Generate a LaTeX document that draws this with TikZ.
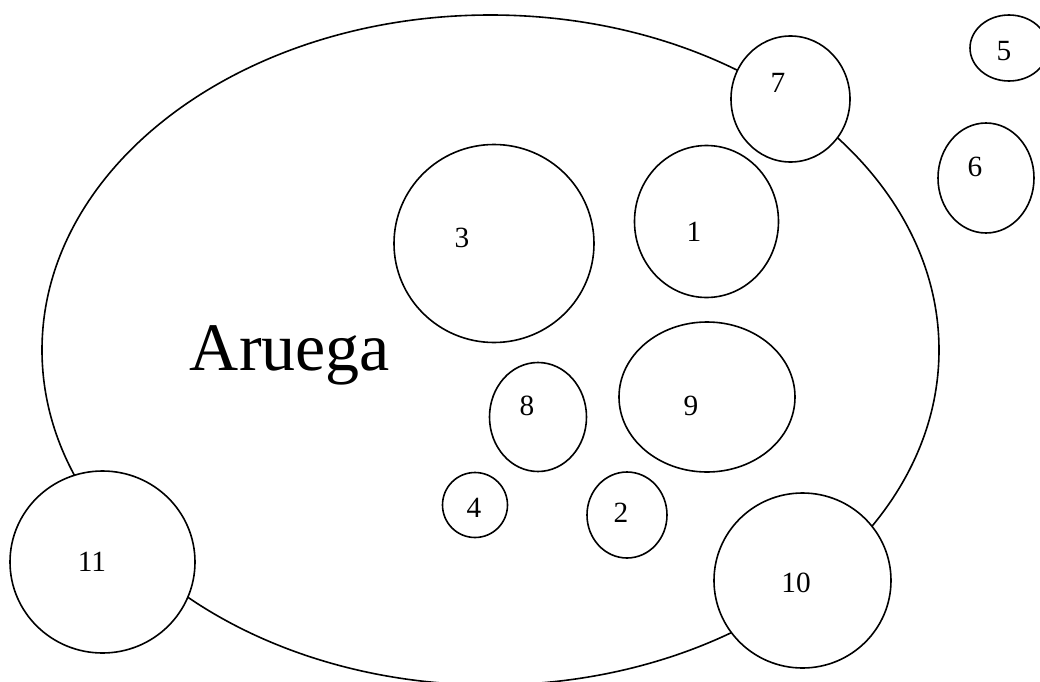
\documentclass[tikz,border=0pt]{standalone}
\usepackage{fontspec}
\setmainfont{Liberation Serif}
\begin{document}
\begin{tikzpicture}[x=0.75pt, y=-0.75pt, line width=1.2pt,
    set/.style={draw, fill=white},
    num/.style={inner sep=0pt, font=\fontsize{22}{22}\selectfont}]
  \useasboundingbox (0, 0) rectangle (1040, 682);

  \begin{scope}
    \clip (0, 0) rectangle (1040, 682);
    \draw (490.5, 350) ellipse [x radius=448.5, y radius=335];

    \draw[set] (706.5, 221.5) ellipse [x radius=72, y radius=76];
    \draw[set] (627, 515) ellipse [x radius=40, y radius=43];
    \draw[set] (494, 243.5) ellipse [x radius=100, y radius=99];
    \draw[set] (475, 505) ellipse [x radius=32.5, y radius=32.5];
    \draw[set] (1009, 48) ellipse [x radius=39, y radius=33];
    \draw[set] (986, 178) ellipse [x radius=48, y radius=55];
    \draw[set] (790.5, 99) ellipse [x radius=59.5, y radius=63];
    \draw[set] (538, 417) ellipse [x radius=48.5, y radius=54.5];
    \draw[set] (707, 397) ellipse [x radius=88, y radius=75];
    \draw[set] (802.5, 580.5) ellipse [x radius=88.5, y radius=87.5];
    \draw[set] (102.5, 562) ellipse [x radius=92.5, y radius=91];
  \end{scope}

  \node[inner sep=0pt, anchor=base, font=\fontsize{51}{51}\selectfont] (aruega) at (290, 370) {Aruega};

  \node[num] (n1) at (694, 232) {1};
  \node[num] (n2) at (621, 513) {2};
  \node[num] (n3) at (462, 238) {3};
  \node[num] (n4) at (474, 508) {4};
  \node[num] (n5) at (1004, 51) {5};
  \node[num] (n6) at (975, 167) {6};
  \node[num] (n7) at (778, 83) {7};
  \node[num] (n8) at (527, 406) {8};
  \node[num] (n9) at (691, 406) {9};
  \node[num] (n10) at (796, 583) {10};
  \node[num] (n11) at (92, 562) {11};
\end{tikzpicture}
\end{document}
